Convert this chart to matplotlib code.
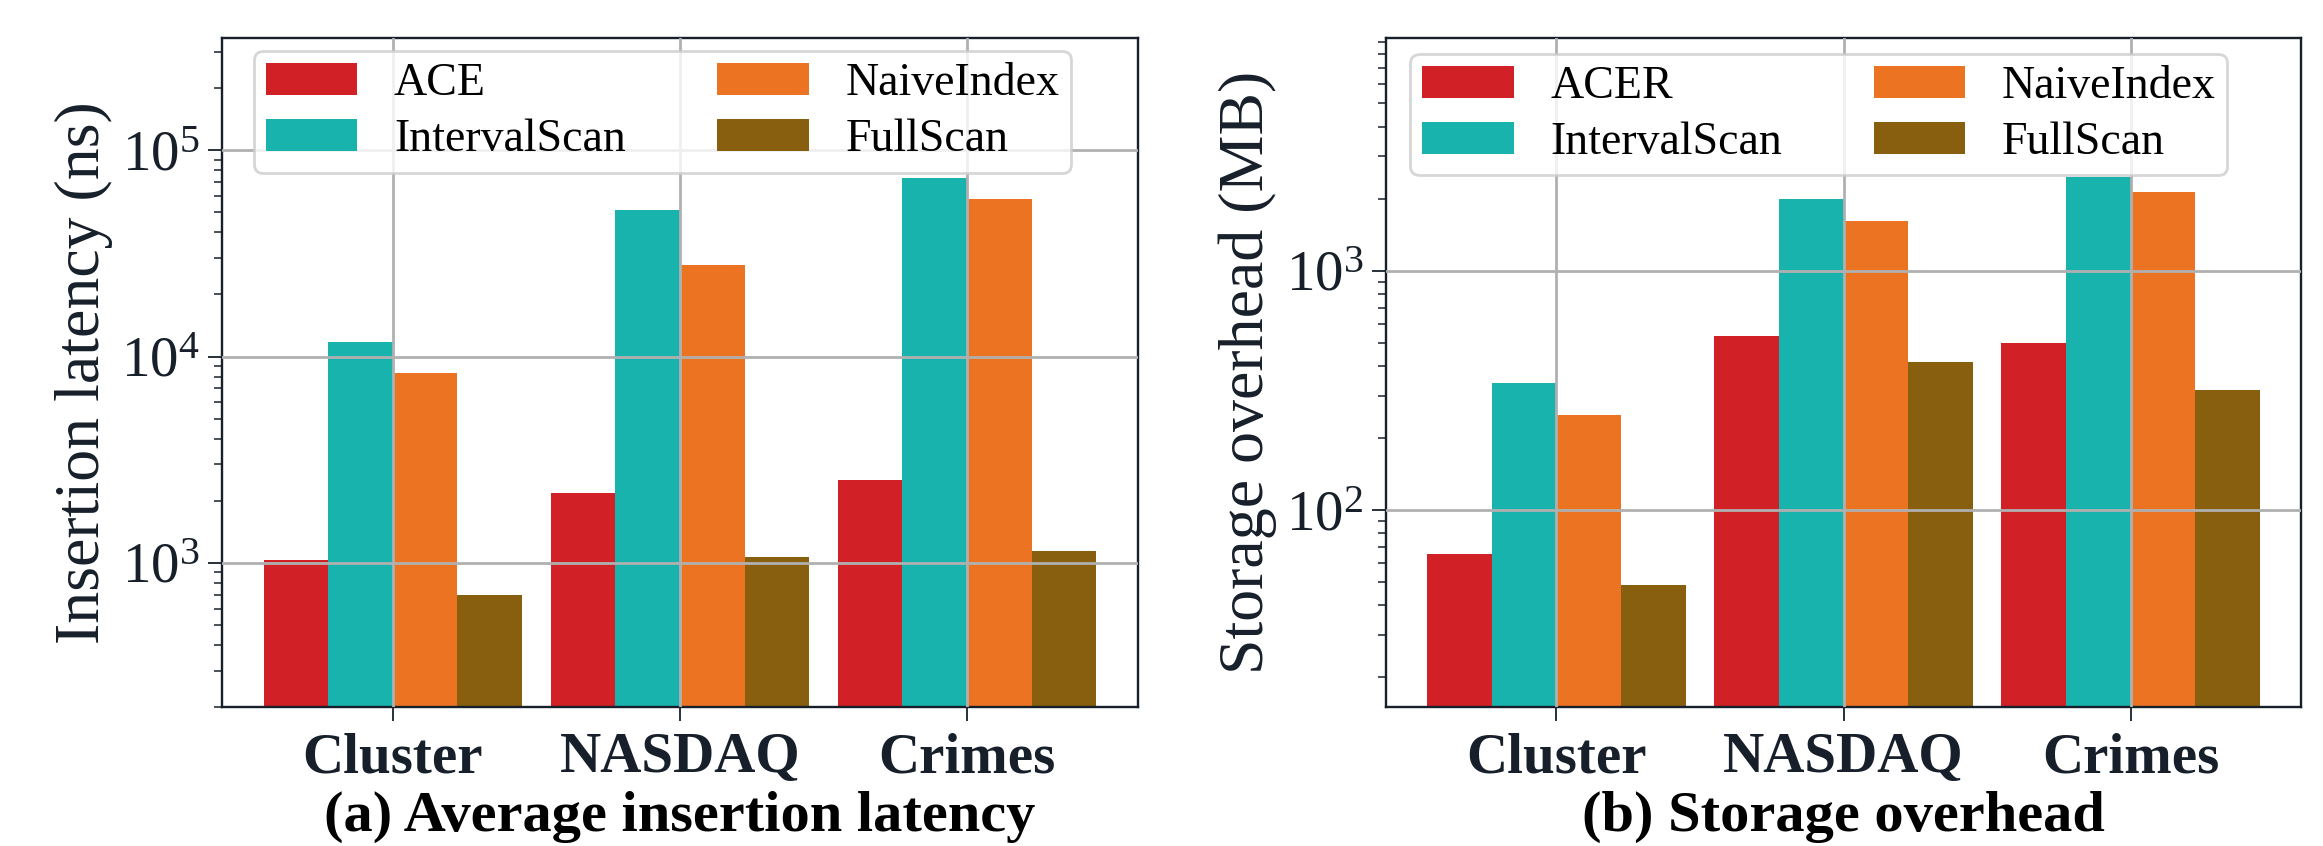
"""
Insertion latency and storage overhead for ACE(R) vs. baselines (log scale bars).
"""
import matplotlib
matplotlib.use("Agg")
import matplotlib.pyplot as plt
import numpy as np

datasets = ["Cluster", "NASDAQ", "Crimes"]
methods_a = ["ACE", "IntervalScan", "NaiveIndex", "FullScan"]
methods_b = ["ACER", "IntervalScan", "NaiveIndex", "FullScan"]

# (a) average insertion latency, ns
ace_lat = [1030, 2170, 2510]
interval_lat = [11700, 51000, 73600]
naive_lat = [8300, 27600, 58200]
full_lat = [697, 1070, 1140]

# (b) storage overhead, MB
acer_mb = [65.3, 533, 498]
interval_mb = [339, 1996, 2470]
naive_mb = [250, 1615, 2140]
full_mb = [48.5, 415, 317]

colors = ["#d12026", "#18b3ac", "#eb7321", "#875f0e"]

plt.rcParams["font.family"] = ["Liberation Serif", "DejaVu Serif"]
plt.rcParams["mathtext.fontset"] = "custom"
plt.rcParams["mathtext.rm"] = "Liberation Serif"
plt.rcParams["mathtext.it"] = "Liberation Serif:italic"
plt.rcParams["mathtext.bf"] = "Liberation Serif:bold"

DARK = "#17202a"

fig = plt.figure(figsize=(23.23, 8.46), dpi=100)
ax_a = fig.add_axes([0.0956, 0.1640, 0.3942, 0.7914])
ax_b = fig.add_axes([0.5965, 0.1640, 0.3942, 0.7914])


def draw(ax, series, labels, ylim, ylabel, subtitle, legend_anchor):
    x = np.arange(len(datasets))
    width = 0.225
    for i, (vals, lab) in enumerate(zip(series, labels)):
        ax.bar(x + (i - 1.5) * width, vals, width, color=colors[i], label=lab,
               linewidth=0)
    ax.set_yscale("log")
    ax.set_ylim(*ylim)
    ax.set_xticks(x)
    ax.set_xticklabels(datasets, fontsize=41, fontweight="bold", color=DARK)
    ax.tick_params(axis="y", which="major", labelsize=41, length=10, width=1.3,
                   color=DARK, labelcolor=DARK, pad=6)
    ax.tick_params(axis="y", which="minor", length=5.5, width=1.1, color=DARK)
    ax.tick_params(axis="x", length=10, width=1.3, color=DARK, pad=8)
    ax.set_ylabel(ylabel, fontsize=46, color=DARK, labelpad=6)

    # grid drawn over the bars
    ax.set_axisbelow(False)
    ax.grid(True, which="major", color="#b0b0b0", linewidth=2)
    for spine in ax.spines.values():
        spine.set_color(DARK)
        spine.set_linewidth(1.7)

    leg = ax.legend(ncol=2, loc="upper left", bbox_to_anchor=legend_anchor,
                    borderaxespad=0, fontsize=33, handlelength=2.0,
                    handleheight=0.7, columnspacing=2.0, fancybox=True,
                    borderpad=0.25, labelspacing=0.3,
                    framealpha=0.8, edgecolor="#cccccc")
    leg.get_frame().set_linewidth(2)

    # subfigure caption under the axes
    pos = ax.get_position()
    fig.text(pos.x0 + pos.width / 2, 15 / 846, subtitle, ha="center",
             va="baseline", fontsize=42, fontweight="bold", color="black")


draw(ax_a, [ace_lat, interval_lat, naive_lat, full_lat], methods_a,
     (200, 3.5e5), "Insertion latency (ns)", "(a) Average insertion latency",
     (0.035, 0.98))
draw(ax_b, [acer_mb, interval_mb, naive_mb, full_mb], methods_b,
     (15, 9400), "Storage overhead (MB)", "(b) Storage overhead",
     (0.027, 0.976))

fig.savefig("out.png", dpi=100)
